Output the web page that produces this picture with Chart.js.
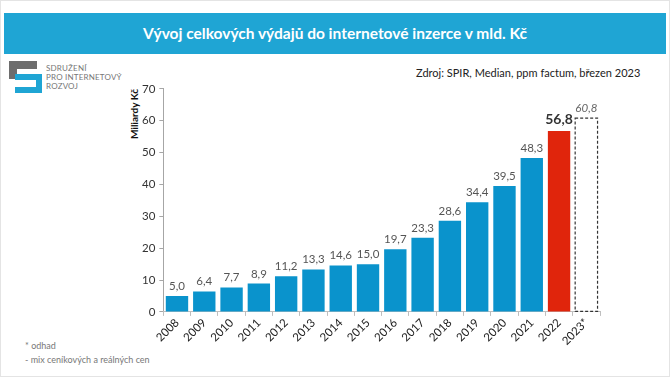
<!DOCTYPE html>
<html lang="cs">
<head>
<meta charset="utf-8">
<script src="https://cdn.jsdelivr.net/npm/chart.js@4/dist/chart.umd.min.js"></script>
<style>
    html, body { margin: 0; padding: 0; background: #fff; }
    body { width: 670px; height: 377px; position: relative; overflow: hidden; font-family: Lato, 'Open Sans', sans-serif; }
    .frame { position: absolute; left: 0; top: 0; width: 668px; height: 375px; border: 1px solid #e4e4e4; }
    .banner { position: absolute; left: 4px; top: 13px; width: 662px; height: 41px; background: #1fa5d4;
              color: #fff; font-size: 15.5px; font-weight: 700; text-align: center; line-height: 41px; }
    .logo { position: absolute; left: 9px; top: 61px; }
    .logo-text { position: absolute; left: 46px; top: 64px; font-size: 8px; line-height: 9px; color: #777; letter-spacing: 0.2px; }
    .source { position: absolute; left: 416px; top: 66px; font-size: 11px; color: #222; }
    .ytitle { position: absolute; left: 134px; top: 114px; transform: translate(-50%, -50%) rotate(-90deg);
              font-size: 10px; font-weight: 700; color: #111; white-space: nowrap; }
    .notes { position: absolute; left: 25px; top: 339px; font-size: 9px; line-height: 14px; color: #777; }
    .chart-box { position: absolute; left: 138px; top: 78px; width: 478px; height: 270px; }
</style>
</head>
<body>
<div class="frame"></div>
<div class="banner">Vývoj celkových výdajů do internetové inzerce v mld. Kč</div>
<svg class="logo" width="36" height="34" viewBox="0 0 36 34">
    <path d="M0 0 H28 V8 H8 V13 H28 V18 H0 Z" fill="#6d6d6d"/>
    <path d="M6 13 H33 V32 H6 V26 H27 V19 H6 Z" fill="#1fa5d4"/>
</svg>
<div class="logo-text">SDRUŽENÍ<br>PRO INTERNETOVÝ<br>ROZVOJ</div>
<div class="source">Zdroj: SPIR, Median, ppm factum, březen 2023</div>
<div class="ytitle">Miliardy Kč</div>
<div class="notes">* odhad<br>- mix ceníkových a reálných cen</div>
<div class="chart-box"><canvas id="spendChart"></canvas></div>

<script>
// data
const years = ['2008', '2009', '2010', '2011', '2012', '2013', '2014', '2015',
               '2016', '2017', '2018', '2019', '2020', '2021', '2022', '2023*'];
const spend = [5.0, 6.4, 7.7, 8.9, 11.2, 13.3, 14.6, 15.0, 19.7, 23.3, 28.6, 34.4, 39.5, 48.3, 56.8, 60.8];
const yTicks = [0, 10, 20, 30, 40, 50, 60, 70];

const barColors = years.map((y, i) => i === years.length - 1 ? '#ffffff' : (i === years.length - 2 ? '#e0250c' : '#0a93cc'));

// labels over bars, Czech decimal comma
const valueLabels = {
    id: 'valueLabels',
    afterDatasetsDraw(chart) {
        const ctx = chart.ctx;
        const meta = chart.getDatasetMeta(0);
        ctx.save();
        ctx.textAlign = 'center';
        ctx.textBaseline = 'bottom';
        meta.data.forEach((bar, i) => {
            const txt = spend[i].toFixed(1).replace('.', ',');
            if (i === spend.length - 2) {
                ctx.font = 'bold 14px Lato, sans-serif';
                ctx.fillStyle = '#333';
            } else if (i === spend.length - 1) {
                ctx.font = 'italic 11.5px Lato, sans-serif';
                ctx.fillStyle = '#666';
            } else {
                ctx.font = '11.5px Lato, sans-serif';
                ctx.fillStyle = '#555';
            }
            ctx.fillText(txt, bar.x, bar.y - 4);
        });
        ctx.restore();
    }
};

// dashed outline for the estimate
const dashedEstimate = {
    id: 'dashedEstimate',
    afterDatasetsDraw(chart) {
        const bar = chart.getDatasetMeta(0).data[spend.length - 1];
        const ctx = chart.ctx;
        const w = bar.width;
        ctx.save();
        ctx.setLineDash([3, 2]);
        ctx.strokeStyle = '#333';
        ctx.lineWidth = 1.2;
        ctx.strokeRect(bar.x - w / 2, bar.y, w, bar.base - bar.y);
        ctx.restore();
    }
};

new Chart(document.getElementById('spendChart').getContext('2d'), {
    type: 'bar',
    data: {
        labels: years,
        datasets: [{
            data: spend,
            backgroundColor: barColors,
            borderWidth: 0,
            barPercentage: 0.82,
            categoryPercentage: 1.0
        }]
    },
    options: {
        responsive: true,
        maintainAspectRatio: false,
        animation: false,
        layout: { padding: { top: 8, right: 16 } },
        plugins: {
            legend: { display: false },
            tooltip: { enabled: false }
        },
        scales: {
            y: {
                min: 0,
                max: 70,
                afterBuildTicks: axis => { axis.ticks = yTicks.map(v => ({ value: v })); },
                border: { color: '#a6a6a6' },
                grid: { drawOnChartArea: false, tickLength: 4, color: '#a6a6a6' },
                ticks: { font: { family: 'Lato', size: 11.5 }, color: '#333', padding: 4 }
            },
            x: {
                border: { color: '#bfbfbf' },
                grid: { drawOnChartArea: false, tickLength: 4, color: '#bfbfbf' },
                ticks: { font: { family: 'Lato', size: 11.5 }, color: '#222', maxRotation: 45, minRotation: 45, padding: 0 }
            }
        }
    },
    plugins: [valueLabels, dashedEstimate]
});
</script>
</body>
</html>
